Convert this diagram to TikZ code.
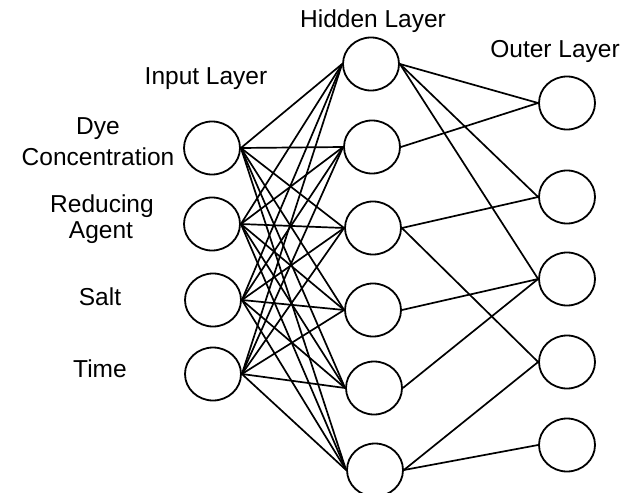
\documentclass[tikz,border=0pt]{standalone}
\usepackage{fontspec}
\setmainfont{Liberation Sans}
\usetikzlibrary{shapes.geometric}
\begin{document}
\begin{tikzpicture}[x=1pt,y=-1pt,
  neuron/.style={draw,ellipse,line width=1.8pt,minimum width=56pt,minimum height=53pt,inner sep=0pt},
  conn/.style={line width=1.7pt},
  lbl/.style={font=\fontsize{24.5}{27}\selectfont,anchor=base,inner sep=0pt}]
\useasboundingbox (0,0) rectangle (631,492);
% input layer
\node[neuron] (i1) at (212,148) {};
\node[neuron] (i2) at (212,224) {};
\node[neuron] (i3) at (213,300) {};
\node[neuron] (i4) at (213,374) {};
% hidden layer
\node[neuron] (h1) at (371,64) {};
\node[neuron] (h2) at (372,147) {};
\node[neuron] (h3) at (373,228) {};
\node[neuron] (h4) at (373,310) {};
\node[neuron] (h5) at (374,388) {};
\node[neuron] (h6) at (375,470) {};
% output layer
\node[neuron] (o1) at (567,103) {};
\node[neuron] (o2) at (567,197) {};
\node[neuron] (o3) at (567,279) {};
\node[neuron] (o4) at (567,362) {};
\node[neuron] (o5) at (567,445) {};
% labels
\node[lbl] (th) at (373,28) {Hidden Layer};
\node[lbl] (to) at (555,58) {Outer Layer};
\node[lbl] (ti) at (206,85) {Input Layer};
\node[lbl] (l1a) at (98,135) {Dye};
\node[lbl] (l1b) at (98,165) {Concentration};
\node[lbl] (l2a) at (102,212) {Reducing};
\node[lbl] (l2b) at (101,238) {Agent};
\node[lbl] (l3) at (100,305) {Salt};
\node[lbl] (l4) at (100,377) {Time};
% input to hidden
\foreach \i in {1,...,4}
  \foreach \h in {1,...,6}
    \draw[conn] (i\i.east) -- (h\h.west);
% hidden to output
\foreach \h/\o in {1/1,1/2,1/3,2/1,3/2,3/4,4/3,5/3,6/4,6/5}
  \draw[conn] (h\h.east) -- (o\o.west);
\end{tikzpicture}
\end{document}
